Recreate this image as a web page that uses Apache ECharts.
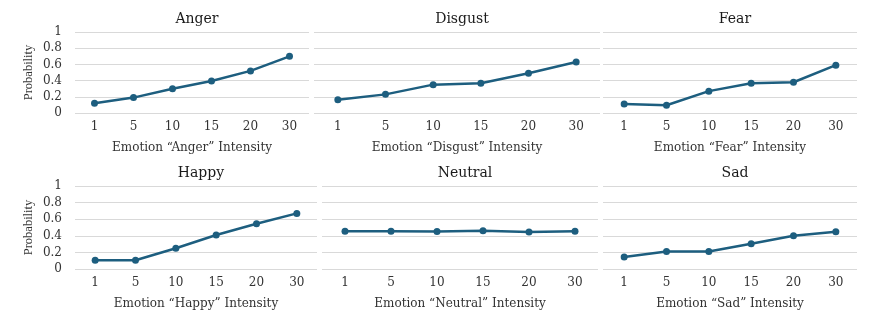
<!DOCTYPE html>
<html>
<head>
<meta charset="utf-8">
<script src="https://cdn.jsdelivr.net/npm/echarts@6/dist/echarts.min.js"></script>
<style>
  html, body { margin: 0; padding: 0; background: #fff; }
  #box { width: 889px; height: 327px; }
</style>
</head>
<body>
<div id="box"></div>
<script>
// categories (intensity levels)
var intensity = ['1', '5', '10', '15', '20', '30'];
var emotions = ['Anger', 'Disgust', 'Fear', 'Happy', 'Neutral', 'Sad'];

// probability
var anger   = [0.12, 0.19, 0.30, 0.395, 0.52, 0.70];
var disgust = [0.165, 0.23, 0.35, 0.367, 0.49, 0.63];
var fear    = [0.11, 0.095, 0.27, 0.367, 0.38, 0.59];
var happy   = [0.105, 0.105, 0.25, 0.41, 0.545, 0.67];
var neutral = [0.456, 0.456, 0.452, 0.46, 0.445, 0.456];
var sad     = [0.145, 0.21, 0.21, 0.305, 0.40, 0.45];
var yTicks  = [0, 0.2, 0.4, 0.6, 0.8, 1];

var allData = [anger, disgust, fear, happy, neutral, sad];

// panel boxes [left, top, width, height]
var boxes = [
  [75, 32, 234, 81], [314, 32, 286, 81], [603, 32, 254, 81],
  [75, 186, 242, 83], [322, 186, 276, 83], [603, 186, 254, 83]
];

var lineColor = '#1d5e7f';
var serif = 'DejaVu Serif';

var myChart = echarts.init(document.getElementById('box'));
var grids = [], xAxes = [], yAxes = [], series = [], titles = [];

for (var i = 0; i < 6; i++) {
  var b = boxes[i];
  var top = i < 3;
  var firstCol = (i % 3 === 0);
  grids.push({ left: b[0], top: b[1], width: b[2], height: b[3] });
  titles.push({
    text: emotions[i],
    left: b[0] + b[2] / 2,
    top: b[1] - 25,
    textAlign: 'center',
    textStyle: { fontFamily: serif, fontSize: 14, fontWeight: 'normal', color: '#1a1a1a' }
  });
  xAxes.push({
    gridIndex: i,
    type: 'category',
    data: intensity,
    boundaryGap: true,
    axisLine: { show: false },
    axisTick: { show: false },
    axisLabel: { fontFamily: serif, fontSize: 12, color: '#333', margin: 8 },
    name: 'Emotion \u201c' + emotions[i] + '\u201d Intensity',
    nameLocation: 'middle',
    nameGap: top ? 29 : 20,
    nameTextStyle: { fontFamily: serif, fontSize: 12, color: '#333' }
  });
  yAxes.push({
    gridIndex: i,
    type: 'value',
    min: 0,
    max: 1,
    interval: 0.2,
    axisLine: { show: false },
    axisTick: { show: false },
    splitLine: { lineStyle: { color: '#d9d9d9', width: 1 } },
    axisLabel: {
      show: firstCol,
      fontFamily: serif, fontSize: 12, color: '#333', margin: 13,
      formatter: function (v) { return yTicks.indexOf(v) >= 0 ? String(v) : ''; }
    },
    name: firstCol ? 'Probability' : '',
    nameLocation: 'middle',
    nameRotate: 90,
    nameGap: 40,
    nameTextStyle: { fontFamily: 'Liberation Serif', fontSize: 12.5, color: '#333' }
  });
  series.push({
    type: 'line',
    xAxisIndex: i,
    yAxisIndex: i,
    data: allData[i],
    symbol: 'circle',
    symbolSize: 7,
    lineStyle: { color: lineColor, width: 2.5 },
    itemStyle: { color: lineColor },
    animation: false
  });
}

var option = {
  backgroundColor: '#fff',
  title: titles,
  grid: grids,
  xAxis: xAxes,
  yAxis: yAxes,
  series: series
};
option && myChart.setOption(option);
</script>
</body>
</html>
